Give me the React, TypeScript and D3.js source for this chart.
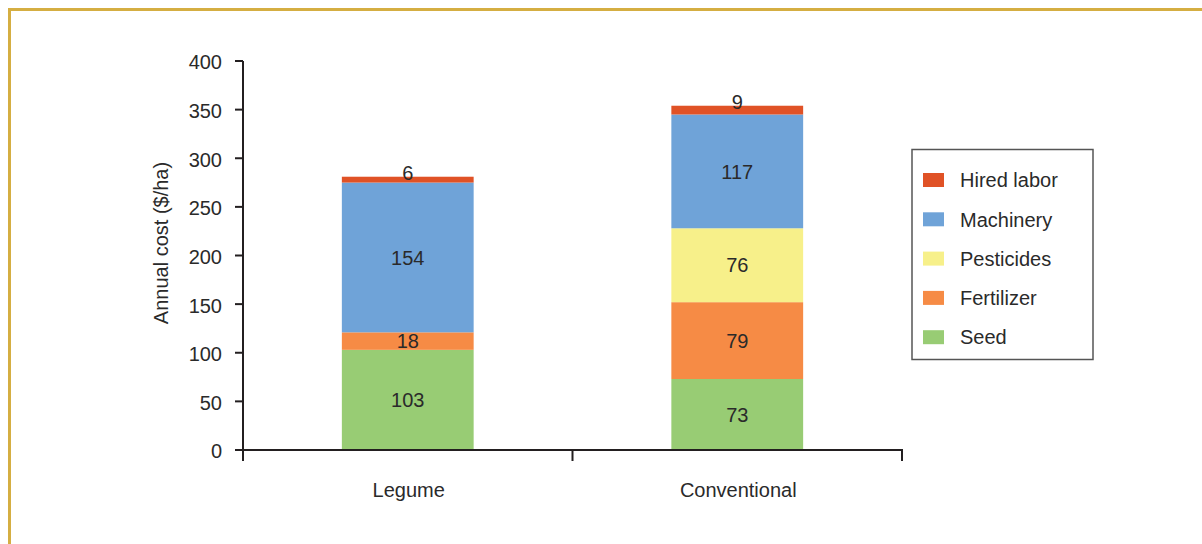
import React from "react";
import * as d3 from "d3";

const categories = ["Legume", "Conventional"];
const seriesNames = ["Seed", "Fertilizer", "Pesticides", "Machinery", "Hired labor"];
const seed = [103, 73];
const fertilizer = [18, 79];
const pesticides = [0, 76];
const machinery = [154, 117];
const hiredLabor = [6, 9];
const seriesColors = ["#98CC74", "#F68B45", "#F7F08A", "#6FA3D8", "#E05226"];
const yTicks = [0, 50, 100, 150, 200, 250, 300, 350, 400];
const legendOrder = ["Hired labor", "Machinery", "Pesticides", "Fertilizer", "Seed"];

const FONT = "'Liberation Sans', Arial, Helvetica, sans-serif";
const TEXT = "#2a2a2a";

export default function App() {
  const values = [seed, fertilizer, pesticides, machinery, hiredLabor];
  const rows = categories.map((c, i) => {
    const r: any = { category: c };
    seriesNames.forEach((s, k) => (r[s] = values[k][i]));
    return r;
  });
  const stacked = d3.stack<any>().keys(seriesNames)(rows);

  const x = d3.scaleBand<string>().domain(categories).range([243, 902]).padding(0);
  const y = d3.scaleLinear().domain([0, 400]).range([450, 61]);
  const barW = x.bandwidth() * 0.4;
  const color = d3.scaleOrdinal<string, string>().domain(seriesNames).range(seriesColors);

  const boundaries = [x.range()[0], ...categories.map((c) => (x(c) as number) + x.bandwidth())];

  return (
    <svg
      width={1202}
      height={544}
      style={{ position: "absolute", left: 0, top: 0, background: "#fff" }}
      fontFamily={FONT}
    >
      <rect x={9.5} y={9.5} width={1400} height={800} fill="none" stroke="#D5AE42" strokeWidth={3} />

      {/* bars */}
      {stacked.map((layer) => (
        <g key={layer.key}>
          {layer.map((d, i) => {
            const v = d[1] - d[0];
            if (v <= 0) return null;
            const cx = (x(categories[i]) as number) + x.bandwidth() / 2;
            return (
              <rect
                key={i}
                x={cx - barW / 2}
                y={y(d[1])}
                width={barW}
                height={y(d[0]) - y(d[1])}
                fill={color(layer.key)}
              />
            );
          })}
        </g>
      ))}

      {/* value labels */}
      {stacked.map((layer) => (
        <g key={"l" + layer.key}>
          {layer.map((d, i) => {
            const v = d[1] - d[0];
            if (v <= 0) return null;
            const cx = (x(categories[i]) as number) + x.bandwidth() / 2;
            const small = v < 12;
            const ly = small ? y(d[1]) - 4 : y((d[0] + d[1]) / 2);
            return (
              <text
                key={i}
                x={cx}
                y={ly}
                dy="0.36em"
                textAnchor="middle"
                fontSize={20}
                fill={TEXT}
              >
                {v}
              </text>
            );
          })}
        </g>
      ))}

      {/* y axis */}
      <line x1={243} x2={243} y1={y(400)} y2={461} stroke="#231f20" strokeWidth={2} />
      {yTicks.map((t) => (
        <g key={t}>
          <line x1={235} x2={243} y1={y(t)} y2={y(t)} stroke="#231f20" strokeWidth={2} />
          <text x={222} y={y(t)} dy="0.42em" textAnchor="end" fontSize={20} fill={TEXT}>
            {t}
          </text>
        </g>
      ))}

      {/* x axis */}
      <line x1={235} x2={903} y1={y(0)} y2={y(0)} stroke="#231f20" strokeWidth={2} />
      {boundaries.map((b, i) => (
        <line key={i} x1={b} x2={b} y1={y(0)} y2={461} stroke="#231f20" strokeWidth={2} />
      ))}
      {categories.map((c) => (
        <text
          key={c}
          x={(x(c) as number) + x.bandwidth() / 2 + 1}
          y={497}
          textAnchor="middle"
          fontSize={20}
          fill={TEXT}
        >
          {c}
        </text>
      ))}

      <text
        transform={`translate(168, ${243}) rotate(-90)`}
        textAnchor="middle"
        fontSize={20}
        fill={TEXT}
      >
        Annual cost ($/ha)
      </text>

      {/* legend */}
      <rect x={912} y={149.5} width={181} height={210} fill="#fff" stroke="#555" strokeWidth={1.5} />
      {legendOrder.map((name, i) => {
        const cy = 180 + i * 39.3;
        return (
          <g key={name}>
            <rect x={923} y={cy - 7} width={21} height={14} fill={color(name)} />
            <text x={960} y={cy} dy="0.36em" fontSize={20} fill={TEXT}>
              {name}
            </text>
          </g>
        );
      })}
    </svg>
  );
}
